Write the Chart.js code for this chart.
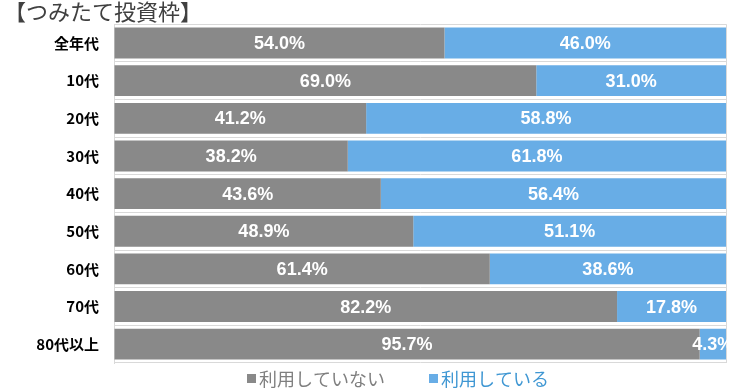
<!DOCTYPE html>
<html>
<head>
<meta charset="utf-8">
<script src="https://cdn.jsdelivr.net/npm/chart.js@4"></script>
<style>
  body { margin: 0; background: #fff; }
  #wrap { width: 735px; height: 391px; }
</style>
</head>
<body>
<div id="wrap"><canvas id="chart"></canvas></div>
<script>
// categories and series (percent)
const categories = ['全年代', '10代', '20代', '30代', '40代', '50代', '60代', '70代', '80代以上'];
const notUsing = [54.0, 69.0, 41.2, 38.2, 43.6, 48.9, 61.4, 82.2, 95.7];
const using = [46.0, 31.0, 58.8, 61.8, 56.4, 51.1, 38.6, 17.8, 4.3];
const seriesNames = ['利用していない', '利用している'];
const seriesColors = ['#898989', '#68ade6'];
const legendTextColors = ['#7f7f7f', '#3f97d3'];

const jpFont = '"Noto Sans CJK JP", "Noto Sans", sans-serif';

// white percent labels in the middle of each segment
const segLabels = {
  id: 'segLabels',
  afterDatasetsDraw(chart) {
    const ctx = chart.ctx;
    ctx.save();
    ctx.fillStyle = '#ffffff';
    ctx.font = 'bold 18px "Liberation Sans", Arial, sans-serif';
    ctx.textAlign = 'center';
    ctx.textBaseline = 'middle';
    chart.data.datasets.forEach(function (ds, di) {
      chart.getDatasetMeta(di).data.forEach(function (bar, i) {
        const x = (bar.x + bar.base) / 2;
        ctx.fillText(ds.data[i].toFixed(1) + '%', x, bar.y + 1);
      });
    });
    ctx.restore();
  }
};

// legend under the plot: small square + coloured text
const bottomLegend = {
  id: 'bottomLegend',
  afterDraw(chart) {
    const ctx = chart.ctx;
    const y = chart.chartArea.bottom + 15;
    const starts = [247, 429];
    ctx.save();
    ctx.font = '18px ' + jpFont;
    ctx.textBaseline = 'middle';
    ctx.textAlign = 'left';
    chart.data.datasets.forEach(function (ds, i) {
      ctx.fillStyle = ds.backgroundColor;
      ctx.fillRect(starts[i], y - 4, 9, 9);
      ctx.fillStyle = legendTextColors[i];
      ctx.fillText(ds.label, starts[i] + 12, y + 1);
    });
    ctx.restore();
  }
};

new Chart(document.getElementById('chart'), {
  type: 'bar',
  data: {
    labels: categories,
    datasets: [
      { label: seriesNames[0], data: notUsing, backgroundColor: seriesColors[0] },
      { label: seriesNames[1], data: using, backgroundColor: seriesColors[1] }
    ]
  },
  options: {
    indexAxis: 'y',
    responsive: true,
    maintainAspectRatio: false,
    animation: false,
    layout: { padding: { left: 4, right: 9, top: 0, bottom: 28 } },
    datasets: {
      bar: { categoryPercentage: 0.82, barPercentage: 1.0 }
    },
    scales: {
      x: {
        stacked: true,
        min: 0,
        max: 100,
        ticks: { display: false, stepSize: 100 },
        grid: { color: '#d9d9d9', drawTicks: false },
        border: { display: false }
      },
      y: {
        stacked: true,
        afterFit: function (scale) { scale.width = 110; },
        ticks: {
          color: '#000000',
          padding: 15,
          font: { family: jpFont, size: 15, weight: 'bold' }
        },
        grid: { offset: true, color: '#d9d9d9', drawTicks: false },
        border: { display: true, color: '#d9d9d9' }
      }
    },
    plugins: {
      title: {
        display: true,
        text: '【つみたて投資枠】',
        align: 'start',
        color: '#404040',
        font: { family: jpFont, size: 22, weight: 'normal', lineHeight: 1.1 },
        padding: { top: 0, bottom: 0 }
      },
      legend: { display: false },
      tooltip: { enabled: false }
    }
  },
  plugins: [segLabels, bottomLegend]
});
</script>
</body>
</html>
